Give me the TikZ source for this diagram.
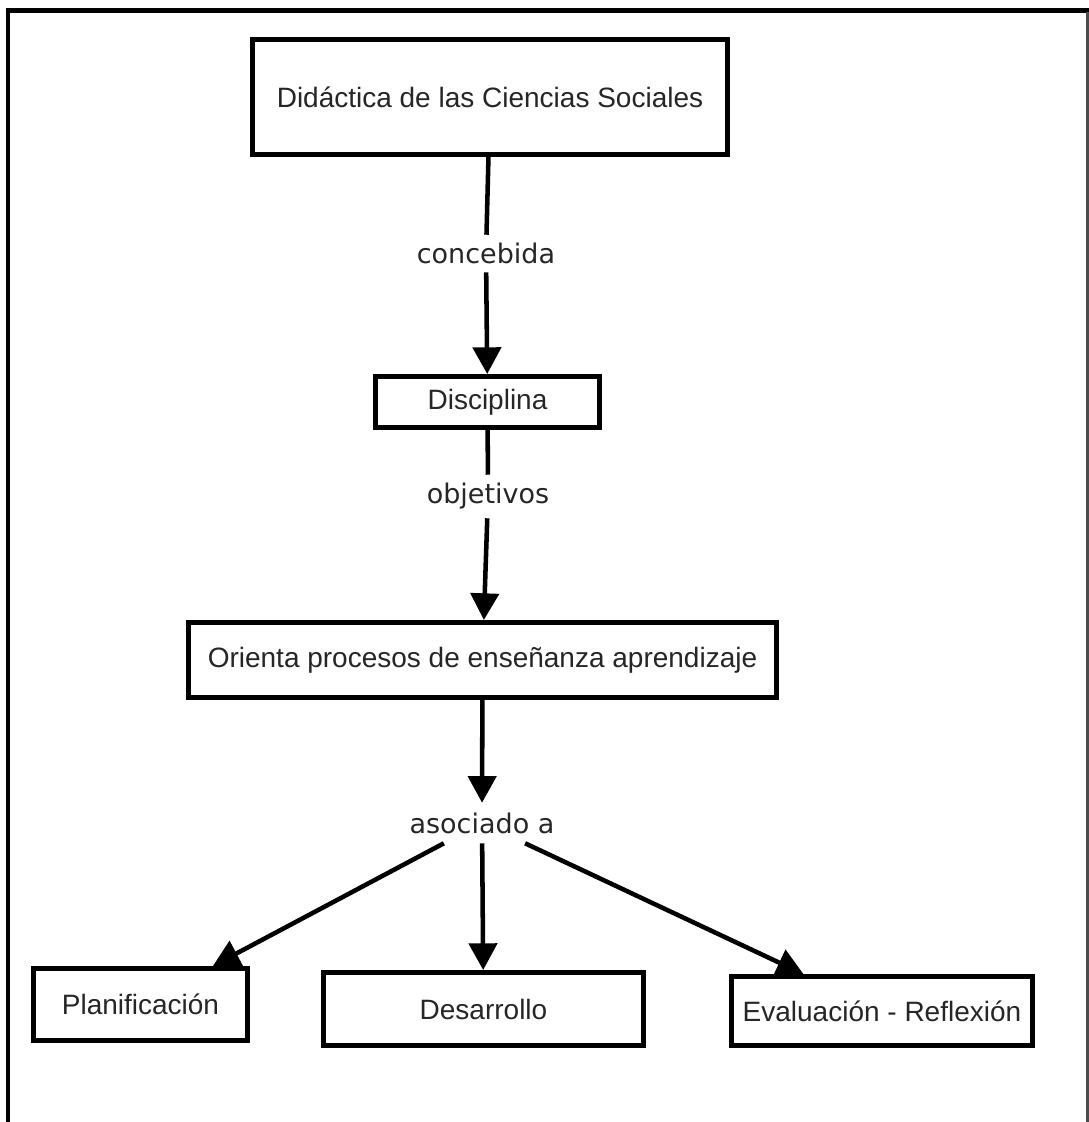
\documentclass[tikz,border=0pt]{standalone}
\usepackage{fontspec}
\setmainfont{Liberation Sans}
\newfontfamily\labelfont{DejaVu Sans}
\usetikzlibrary{arrows.meta}

\begin{document}
\begin{tikzpicture}[x=0.75pt, y=-0.75pt,
  conceptbox/.style={draw=black, line width=3.75pt, fill=white, inner sep=0pt,
    font=\fontsize{21}{25}\selectfont, text=black!85},
  linklabel/.style={inner sep=0pt, inner xsep=2pt,
    font=\labelfont\fontsize{20.25}{24}\selectfont, text=black!85},
  link/.style={line width=3.4pt, black},
  arr/.style={link, -{Triangle[length=20pt, width=21pt]}}
]
\useasboundingbox (0,0) rectangle (1089,1122);

% outer frame
\draw[line width=3.75pt] (5.5,10.5) -- (1089,10.5);
\draw[line width=3pt] (7.5,8.5) -- (7.5,1122);
\draw[line width=1.8pt, black!70] (1087.5,12) -- (1087.5,1122);

% concepts
\node[conceptbox, minimum width=356.25pt, minimum height=86.25pt] (dcs) at (490,97)
  {Didáctica de las Ciencias Sociales};
\node[conceptbox, minimum width=168pt, minimum height=38.25pt] (disc) at (487.5,402)
  {Disciplina};
\node[conceptbox, minimum width=441pt, minimum height=56.25pt] (orient) at (482.5,660)
  {Orienta procesos de enseñanza aprendizaje};
\node[conceptbox, minimum width=160.5pt, minimum height=54pt] (plan) at (140.5,1004.5)
  {Planificación};
\node[conceptbox, minimum width=240pt, minimum height=54.75pt] (desa) at (483.5,1009)
  {Desarrollo};
\node[conceptbox, minimum width=225.75pt, minimum height=51.75pt] (eval) at (882,1011)
  {Evaluación - Reflexión};

% linking phrases
\node[linklabel, minimum height=27.75pt] (conc) at (486,253.5) {concebida};
\node[linklabel, minimum height=32.25pt] (obj) at (488,496.5) {objetivos};
\node[linklabel, minimum height=30pt] (asoc) at (482,823) {asociado a};

% connections
\draw[link] (dcs) -- (conc);
\draw[arr] (conc) -- (disc);
\draw[link] (disc) -- (obj);
\draw[arr] (obj) -- (orient);
\draw[arr] (orient) -- (asoc);
\draw[arr] (asoc) -- (plan);
\draw[arr] (asoc) -- (desa);
\draw[arr] (asoc) -- (eval);
\end{tikzpicture}
\end{document}
